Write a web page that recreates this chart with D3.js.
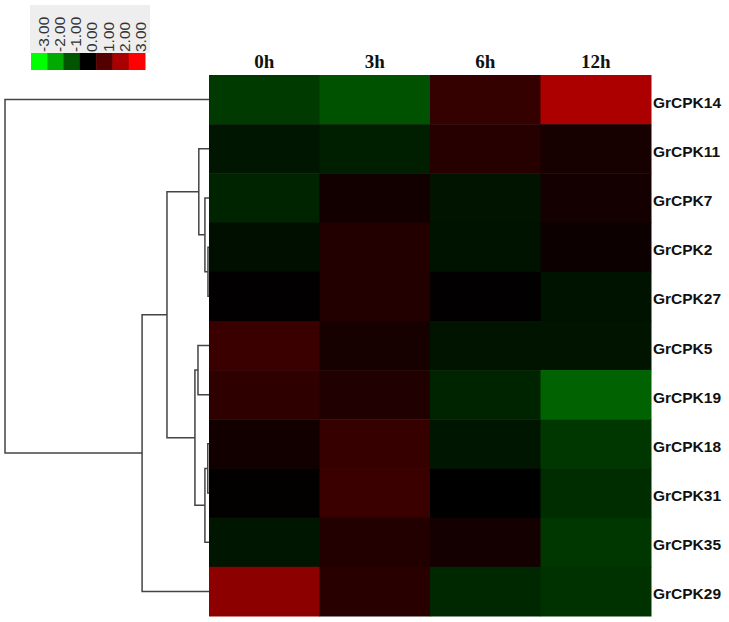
<!DOCTYPE html>
<html>
<head>
<meta charset="utf-8">
<script src="https://cdn.jsdelivr.net/npm/d3@7"></script>
<style>
  body { margin: 0; background: #fff; }
</style>
</head>
<body>
<div class="chart"></div>
<script>
const genes = ["GrCPK14", "GrCPK11", "GrCPK7", "GrCPK2", "GrCPK27", "GrCPK5",
    "GrCPK19", "GrCPK18", "GrCPK31", "GrCPK35", "GrCPK29"]
const times = ["0h", "3h", "6h", "12h"]
// log2 expression, one row per gene, columns follow times
const values = [
    [-0.68, -0.96, 0.61, 2.02],
    [-0.26, -0.35, 0.45, 0.26],
    [-0.41, 0.21, -0.24, 0.24],
    [-0.18, 0.41, -0.21, 0.14],
    [0.02, 0.41, 0.02, -0.21],
    [0.68, 0.26, -0.24, -0.24],
    [0.55, 0.38, -0.41, -1.15],
    [0.21, 0.65, -0.26, -0.65],
    [0.04, 0.68, 0.00, -0.53],
    [-0.26, 0.41, 0.24, -0.65],
    [1.65, 0.47, -0.47, -0.59]
]
const legend_values = [-3, -2, -1, 0, 1, 2, 3]
const legend_labels = ["-3.00", "-2.00", "-1.00", "0.00", "1.00", "2.00", "3.00"]
// clustering: [left, right, height]; numbers refer to earlier merges
const merges = [
    ["GrCPK2", "GrCPK27", 0.005],
    ["GrCPK7", 0, 0.02],
    ["GrCPK11", 1, 0.05],
    ["GrCPK18", "GrCPK31", 0.006],
    [3, "GrCPK35", 0.02],
    ["GrCPK5", "GrCPK19", 0.054],
    [5, 4, 0.069],
    [2, 6, 0.206],
    [7, "GrCPK29", 0.328],
    ["GrCPK14", 8, 1.0]
]

const width = 729;
const height = 622;
const svg = d3.select(".chart").append("svg").attr("width", width).attr("height", height)

const x_scale = d3.scaleBand().domain(times).range([209, 651]);
const y_scale = d3.scaleBand().domain(genes).range([75, 616]);
const color = d3.scaleLinear().domain([-3, 0, 3]).range(["#00ff00", "#000000", "#ff0000"]).clamp(true);
const h_scale = d3.scaleLinear().domain([0, 1]).range([209, 5]);

// heatmap cells
const cells = []
genes.forEach((g, i) => times.forEach((t, j) => cells.push({gene: g, time: t, value: values[i][j]})))
svg.append("g").selectAll("rect")
    .data(cells)
    .join("rect")
    .attr("x", d => x_scale(d.time))
    .attr("y", d => y_scale(d.gene))
    .attr("width", x_scale.bandwidth() + 0.5)
    .attr("height", y_scale.bandwidth() + 0.5)
    .attr("fill", d => color(d.value));

svg.append("g").selectAll("text")
    .data(times)
    .join("text")
    .attr("x", d => x_scale(d) + x_scale.bandwidth() / 2)
    .attr("y", 68)
    .attr("text-anchor", "middle")
    .attr("font-family", "Liberation Serif, Times New Roman, serif")
    .attr("font-weight", "bold")
    .attr("font-size", 19)
    .attr("fill", "#111")
    .text(d => d);

svg.append("g").selectAll("text")
    .data(genes)
    .join("text")
    .attr("x", 653)
    .attr("y", d => y_scale(d) + y_scale.bandwidth() / 2 + 8)
    .attr("font-family", "Liberation Sans, Arial, sans-serif")
    .attr("font-weight", "bold")
    .attr("font-size", 15.5)
    .attr("fill", "#111")
    .text(d => d);

// dendrogram
const pos = merges.map(() => null)
const nodePos = n => typeof n === "number" ? pos[n]
    : {x: x_scale.range()[0], y: y_scale(n) + y_scale.bandwidth() / 2}
const links = []
merges.forEach((m, i) => {
    const a = nodePos(m[0]), b = nodePos(m[1]);
    const x = h_scale(m[2]);
    pos[i] = {x: x, y: (a.y + b.y) / 2};
    links.push("M" + a.x + "," + a.y + "H" + x + "V" + b.y + "H" + b.x);
})
svg.append("g").selectAll("path")
    .data(links)
    .join("path")
    .attr("d", d => d)
    .attr("fill", "none")
    .attr("stroke", "#444")
    .attr("stroke-width", 1.5);

// colour key
const lx = d3.scaleBand().domain(legend_values).range([31, 145]);
const key = svg.append("g")
key.append("rect").attr("x", 30).attr("y", 5).attr("width", 120).attr("height", 48).attr("fill", "#eeeeee");
key.selectAll("rect.sw")
    .data(legend_values)
    .join("rect")
    .attr("class", "sw")
    .attr("x", d => lx(d))
    .attr("y", 53)
    .attr("width", lx.bandwidth() + 0.5)
    .attr("height", 17)
    .attr("fill", d => color(d));
key.selectAll("text")
    .data(legend_values)
    .join("text")
    .attr("transform", d => 'translate(' + (lx(d) + lx.bandwidth() / 2 + 4) + ',52) rotate(-90)')
    .attr("dy", "0.35em")
    .attr("font-family", "Liberation Sans, Arial, sans-serif")
    .attr("font-size", 15.5)
    .attr("fill", "#333")
    .text((d, i) => legend_labels[i]);
</script>
</body>
</html>
